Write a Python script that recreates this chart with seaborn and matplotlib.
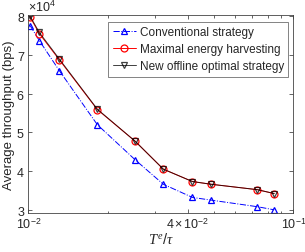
import numpy as np
import matplotlib
matplotlib.use("Agg")
import matplotlib.pyplot as plt
from matplotlib.ticker import NullFormatter
import seaborn as sns

# Datos
te_tau = [0.01015, 0.0110, 0.0131, 0.0182, 0.0253, 0.0323, 0.0416, 0.0489, 0.0731, 0.0846]
conventional = [7.76, 7.37, 6.59, 5.20, 4.29, 3.66, 3.32, 3.25, 3.08, 3.00]
maximal = [7.98, 7.55, 6.87, 5.59, 4.77, 4.05, 3.73, 3.66, 3.52, 3.42]
new_offline = [8.00, 7.58, 6.89, 5.60, 4.77, 4.05, 3.73, 3.66, 3.52, 3.42]
series_labels = ["Conventional strategy", "Maximal energy harvesting", "New offline optimal strategy"]
xtick_vals = [0.01, 0.04, 0.1]
xtick_labels = [r"$10^{-2}$", r"$4\times10^{-2}$", r"$10^{-1}$"]

sns.set_style("ticks")
plt.rcParams["font.family"] = ["Liberation Sans", "DejaVu Sans"]
plt.rcParams["mathtext.fontset"] = "custom"
plt.rcParams["mathtext.rm"] = "Liberation Sans"
plt.rcParams["mathtext.it"] = "Liberation Serif:italic"
plt.rcParams["axes.formatter.use_mathtext"] = True

fig = plt.figure(figsize=(3.05, 2.53), dpi=100)
ax = fig.add_axes([0.093, 0.153, 0.869, 0.785])

y_scale = 1e4
sns.lineplot(x=te_tau, y=np.array(conventional) * y_scale, ax=ax, color="blue",
             linestyle="-.", marker="^", markersize=5, markerfacecolor="none",
             markeredgecolor="blue", markeredgewidth=0.9, linewidth=0.7,
             label=series_labels[0])
sns.lineplot(x=te_tau, y=np.array(maximal) * y_scale, ax=ax, color="red",
             linestyle="-", marker="o", markersize=5, markerfacecolor="none",
             markeredgecolor="red", markeredgewidth=0.9, linewidth=0.7,
             label=series_labels[1])
sns.lineplot(x=te_tau, y=np.array(new_offline) * y_scale, ax=ax, color="black",
             linestyle="-", marker="v", markersize=5, markerfacecolor="none",
             markeredgecolor="black", markeredgewidth=0.9, linewidth=0.7,
             label=series_labels[2], alpha=0.75)

ax.set_xscale("log")
ax.set_xlim(0.01, 0.1)
ax.set_ylim(2.91e4, 8.04e4)
ax.set_xticks(xtick_vals)
ax.set_xticklabels(xtick_labels)
ax.xaxis.set_minor_formatter(NullFormatter())
ax.set_yticks([3e4, 4e4, 5e4, 6e4, 7e4, 8e4])
ax.ticklabel_format(style="sci", axis="y", scilimits=(4, 4))

ax.set_xlabel(r"$T^{e}/\tau$", fontsize=10.5, color="#262626", labelpad=0)
ax.set_ylabel("Average throughput (bps)", fontsize=9.5, color="#262626", labelpad=1)

ax.tick_params(which="both", direction="in", top=True, right=True,
               labelsize=9, colors="#262626", width=0.5, pad=2.5)
ax.tick_params(which="major", length=3)
ax.tick_params(which="minor", length=1.8)
for s in ax.spines.values():
    s.set_linewidth(0.6)
    s.set_color("#444444")
ax.yaxis.get_offset_text().set_fontsize(9)

leg = ax.legend(loc="upper right", bbox_to_anchor=(0.98, 0.965), fontsize=8.5,
                frameon=True, fancybox=False, handlelength=2.0,
                borderpad=0.35, labelspacing=0.45, handletextpad=0.3,
                borderaxespad=0.0)
leg.get_frame().set_edgecolor("#262626")
leg.get_frame().set_linewidth(0.5)

fig.savefig("out.png", dpi=100)
